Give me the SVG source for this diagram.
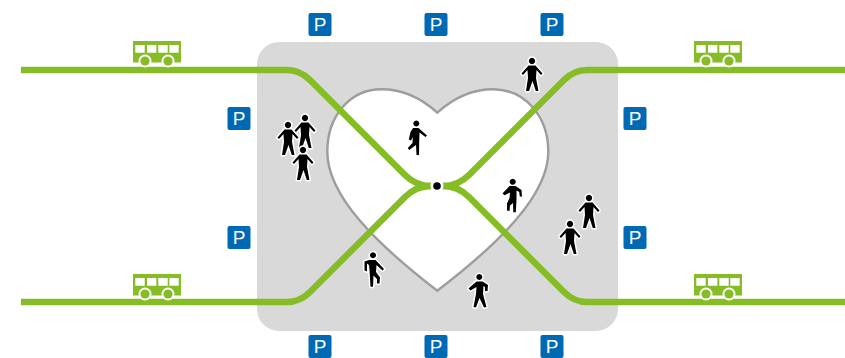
<svg xmlns="http://www.w3.org/2000/svg" width="845" height="358" viewBox="0 0 845 358">
<style>
.line{fill:none;stroke:#86bc25;stroke-width:6.500}
.pbox{fill:#0069b4}
.ptxt{fill:#fff;font:19px "Liberation Sans",Arial,sans-serif;text-anchor:middle}
.bus{fill:#86bc25}
.win{fill:#fff}
.person{fill:#000;stroke:#fff;stroke-width:3;stroke-linejoin:round;paint-order:stroke}
</style>
<defs>
<g id="busg">
<path class="bus" d="M-24-11h48v21.500h-48z"/>
<path class="win" d="M-21.700-7h9.400v7.700h-9.400zM-10-7h9.400v7.700h-9.400zM1.300-7h9.400v7.700h-9.400zM12.300-7h9.400v7.700h-9.400z"/>
<circle class="win" cx="-12" cy="9" r="6.500"/><circle class="win" cx="11" cy="9" r="6.500"/>
<circle class="bus" cx="-12" cy="9" r="4.600"/><circle class="bus" cx="11" cy="9" r="4.600"/>
</g>
<path id="stand" d="M0-18.200a3.200 3.200 0 1 1-.01 0ZM-3.500-10.500H3.500L10.500-2.500L9-1L4.500-6L4 2L6.500 15H3.800L.5 5L-3 15H-6L-4 2L-4.500-6L-9-1L-10.500-2.500Z"/>
<path id="walk" d="M.3-18.500a3 3 0 1 1-.01 0ZM-3-11H2.500L11-3.500L9.500-2L3.500-6.500L3.200 3L3 16H.5L0 6L-6.800 11L-8.200 9L-3.500 4L-3.200-2L-5 1.500L-7.200.5L-5.500-7Z"/>
<path id="walk2" d="M.7-18.300a3 3 0 1 1-.01 0ZM-2.500-11H3.500L9.500-7L10-.5H7.800L7.200-5L4.500-6.500V3L3.800 15.300H1.300L1 6L-2 8.500L-2.500 14L-5 13.500V6.500L-2.500 1L-2-4.500L-7.500-1.800L-9.500-3.500Z"/>
<path id="walk3" d="M0-18.700a3 3 0 1 1-.01 0ZM-4-11H2.500L11-2L9.500-.5L3.500-6L3 1L7 6.500L6.500 12.500H4V8L.5 4.500L0 15.700H-2.500L-3.500-1L-4-6L-6-7.500V.5L-8.500-.5V-9.500Z"/>
<path id="walk4" d="M.3-18a3 3 0 1 1-.01 0ZM-2.500-10.500H3.500L9-7L8.500-1H6V-5L4.500-6L4 2L7.500 15L5 15.500L.5 6L-3 15.500L-5.500 15L-3 2L-2.500-5L-8.500-1.500L-10.500-3.500Z"/>
</defs>
<rect id="area" x="257" y="42" width="361" height="289" rx="22" fill="#d9d9d9"/>
<path id="heart" d="M437.300 112.700C421 98 403 89.300 381.700 89.300C349 89.300 327.300 117 327.300 151.700C327.300 195 375 243 437.300 290.700C499.600 243 548.300 195 548.300 151.700C548.300 117 525.600 89.300 493 89.300C471.600 89.300 453.600 98 437.300 112.700Z" fill="#fff" stroke="#9d9d9d" stroke-width="2.400"/>
<g id="connectors">
<path class="line" d="M21 70H287Q300 70 310 80L405 175Q416 186 431 186"/>
<path class="line" d="M21 302H287Q300 302 310 292L405 197Q416 186 431 186"/>
<path class="line" d="M845 70H587Q574 70 564 80L469 175Q458 186 443 186"/>
<path class="line" d="M845 302H587Q574 302 564 292L469 197Q458 186 443 186"/>
</g>
<g id="hub"><circle cx="437" cy="186" r="6.500" fill="#fff"/><circle cx="437" cy="186" r="3.800" fill="#000"/></g>
<use id="bus-1" href="#busg" x="157" y="52"/>
<use id="bus-2" href="#busg" x="718" y="52"/>
<use id="bus-3" href="#busg" x="157" y="285"/>
<use id="bus-4" href="#busg" x="718" y="285"/>
<g id="p1"><rect class="pbox" x="308.500" y="13" width="23" height="23" rx="2"/><text class="ptxt" x="320" y="31">P</text></g>
<g id="p2"><rect class="pbox" x="424.500" y="13" width="23" height="23" rx="2"/><text class="ptxt" x="436" y="31">P</text></g>
<g id="p3"><rect class="pbox" x="540.500" y="13" width="23" height="23" rx="2"/><text class="ptxt" x="552" y="31">P</text></g>
<g id="p4"><rect class="pbox" x="227.500" y="107" width="23" height="23" rx="2"/><text class="ptxt" x="239" y="125">P</text></g>
<g id="p5"><rect class="pbox" x="623.500" y="107" width="23" height="23" rx="2"/><text class="ptxt" x="635" y="125">P</text></g>
<g id="p6"><rect class="pbox" x="227.500" y="226" width="23" height="23" rx="2"/><text class="ptxt" x="239" y="244">P</text></g>
<g id="p7"><rect class="pbox" x="623.500" y="226" width="23" height="23" rx="2"/><text class="ptxt" x="635" y="244">P</text></g>
<g id="p8"><rect class="pbox" x="308.500" y="335" width="23" height="23" rx="2"/><text class="ptxt" x="320" y="353">P</text></g>
<g id="p9"><rect class="pbox" x="424.500" y="335" width="23" height="23" rx="2"/><text class="ptxt" x="436" y="353">P</text></g>
<g id="p10"><rect class="pbox" x="540.500" y="335" width="23" height="23" rx="2"/><text class="ptxt" x="552" y="353">P</text></g>
<use id="person-1" class="person" href="#stand" x="532" y="76"/>
<use id="person-2" class="person" href="#stand" x="288" y="140"/>
<use id="person-3" class="person" href="#stand" x="305" y="133"/>
<use id="person-4" class="person" href="#stand" x="303" y="165"/>
<use id="person-5" class="person" href="#walk" x="416" y="139"/>
<use id="person-6" class="person" href="#walk2" x="512" y="197"/>
<use id="person-7" class="person" href="#stand" x="589" y="213"/>
<use id="person-8" class="person" href="#stand" x="570" y="239"/>
<use id="person-9" class="person" href="#walk3" x="373" y="271"/>
<use id="person-10" class="person" href="#walk4" x="479" y="292"/>
</svg>
